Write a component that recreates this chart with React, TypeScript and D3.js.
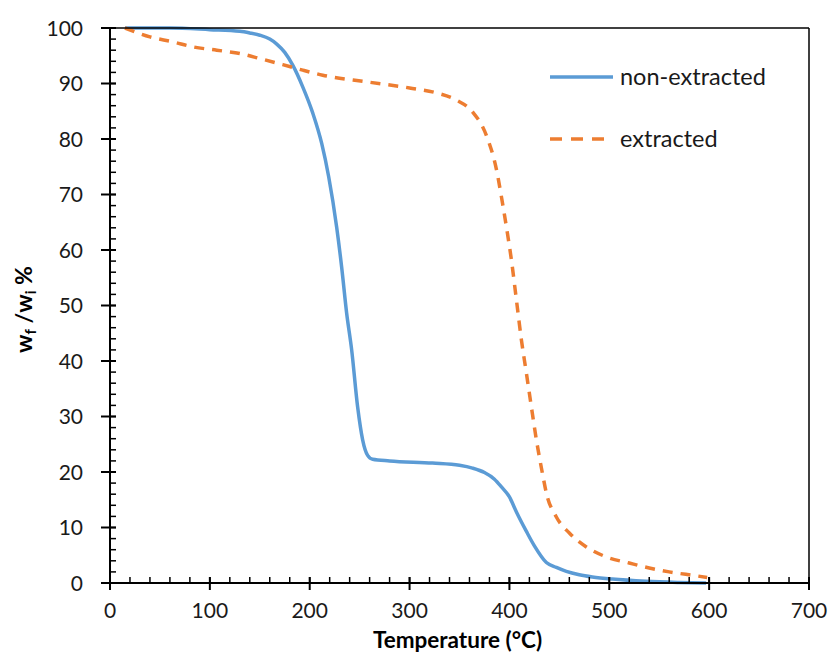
import React from 'react'
import * as d3 from 'd3'

// TGA curves
const nonExtractedT = [15, 60, 100, 130, 140, 150, 160, 167, 175, 183, 193, 203, 212, 219, 227, 232, 237, 242, 248, 253, 258, 263, 280, 323, 350, 363, 375, 385, 392, 400, 407, 417, 425, 437, 447, 457, 470, 483, 503, 537, 570, 597]
const nonExtractedW = [100, 100, 99.7, 99.4, 99.1, 98.7, 98, 97.1, 95.6, 93.3, 89.4, 84.7, 79.2, 73.2, 64.1, 56.9, 48.6, 42, 31.7, 25.8, 23, 22.3, 22, 21.6, 21.2, 20.7, 19.9, 18.7, 17.3, 15.5, 12.8, 9.3, 6.7, 3.7, 2.8, 2.1, 1.5, 1.1, 0.7, 0.3, 0.1, 0]

const extractedT = [15, 40, 63, 83, 107, 130, 150, 173, 193, 213, 257, 300, 327, 347, 363, 377, 387, 393, 398, 402, 407, 412, 417, 422, 427, 433, 437, 447, 460, 477, 497, 520, 540, 560, 587, 598]
const extractedW = [100, 98.4, 97.5, 96.6, 96, 95.4, 94.5, 93.4, 92.4, 91.5, 90.3, 89.2, 88.3, 87, 84.9, 80.6, 74.5, 68.5, 63, 58.2, 51, 43.8, 37.8, 31.7, 25.8, 19.8, 16.2, 11.9, 9, 6.5, 4.7, 3.6, 2.7, 2, 1.3, 1]

const xTicks = [0, 100, 200, 300, 400, 500, 600, 700]
const yTicks = [0, 10, 20, 30, 40, 50, 60, 70, 80, 90, 100]
const xMinor = d3.range(0, 701, 20)
const yMinor = d3.range(0, 101, 2)

const series = [
  { name: 'non-extracted', t: nonExtractedT, w: nonExtractedW, color: '#5B9BD5', dash: null },
  { name: 'extracted', t: extractedT, w: extractedW, color: '#ED7D31', dash: '10,8' }
]

const W = 830
const H = 655
const margin = { top: 28, right: 21, bottom: 72, left: 110 }
const font = 'Lato, "Open Sans", sans-serif'

export default function App() {
  const x = d3.scaleLinear().domain([0, 700]).range([margin.left, W - margin.right])
  const y = d3.scaleLinear().domain([0, 100]).range([H - margin.bottom, margin.top])
  const line = d3.line<[number, number]>()
    .x(d => x(d[0]))
    .y(d => y(d[1]))
    .curve(d3.curveMonotoneX)

  const x0 = x(0), x1 = x(700), y0 = y(0), y1 = y(100)

  return (
    <svg width={W} height={H} style={{ position: 'absolute', left: 0, top: 0, background: '#fff' }}>
      {/* series */}
      {series.map(s => (
        <path
          key={s.name}
          d={line(s.t.map((t, i) => [t, s.w[i]] as [number, number])) || ''}
          fill="none"
          stroke={s.color}
          strokeWidth={3.5}
          strokeDasharray={s.dash || undefined}
          strokeLinejoin="round"
        />
      ))}

      {/* frame */}
      <line x1={x0} x2={x1} y1={y1} y2={y1} stroke="#000" strokeWidth={1.5} />
      <line x1={x1} x2={x1} y1={y1} y2={y0} stroke="#000" strokeWidth={1.5} />

      {/* x axis */}
      <line x1={x0} x2={x1} y1={y0} y2={y0} stroke="#000" strokeWidth={2} />
      {xMinor.map(v => (
        <line key={'xm' + v} x1={x(v)} x2={x(v)} y1={y0} y2={y0 - 6} stroke="#000" strokeWidth={1.5} />
      ))}
      {xTicks.map(v => (
        <g key={'xt' + v}>
          <line x1={x(v)} x2={x(v)} y1={y0 - 6} y2={y0 + 7} stroke="#000" strokeWidth={2} />
          <text x={x(v)} y={y0 + 35} textAnchor="middle" fontFamily={font} fontSize={21} fill="#1a1a1a">{v}</text>
        </g>
      ))}
      <text x={(x0 + x1) / 2 - 2} y={H - 7} textAnchor="middle" fontFamily={font} fontSize={22.5} fontWeight="bold" fill="#000">Temperature (°C)</text>

      {/* y axis */}
      <line x1={x0} x2={x0} y1={y0} y2={y1} stroke="#000" strokeWidth={2} />
      {yMinor.map(v => (
        <line key={'ym' + v} x1={x0} x2={x0 + 6} y1={y(v)} y2={y(v)} stroke="#000" strokeWidth={1.5} />
      ))}
      {yTicks.map(v => (
        <g key={'yt' + v}>
          <line x1={x0 - 9} x2={x0 + 6} y1={y(v)} y2={y(v)} stroke="#000" strokeWidth={2} />
          <text x={x0 - 27} y={y(v) + 7.5} textAnchor="end" fontFamily={font} fontSize={21} fill="#1a1a1a">{v}</text>
        </g>
      ))}
      <text
        transform={`translate(32, ${(y0 + y1) / 2 + 4}) rotate(-90)`}
        textAnchor="middle"
        fontFamily={font}
        fontSize={23}
        fontWeight="bold"
        fill="#000"
      >
        w<tspan fontSize={15} dy={4}>f</tspan><tspan dy={-4}> /w</tspan><tspan fontSize={15} dy={4}>i</tspan><tspan dy={-4}> %</tspan>
      </text>

      {/* legend */}
      {series.map((s, i) => (
        <g key={'lg' + s.name} transform={`translate(550, ${77 + i * 62})`}>
          <line x1={0} x2={63} y1={0} y2={0} stroke={s.color} strokeWidth={3.5} strokeDasharray={s.dash ? '12,9' : undefined} />
          <text x={70} y={8} fontFamily={font} fontSize={23.5} fill="#1a1a1a">{s.name}</text>
        </g>
      ))}
    </svg>
  )
}
